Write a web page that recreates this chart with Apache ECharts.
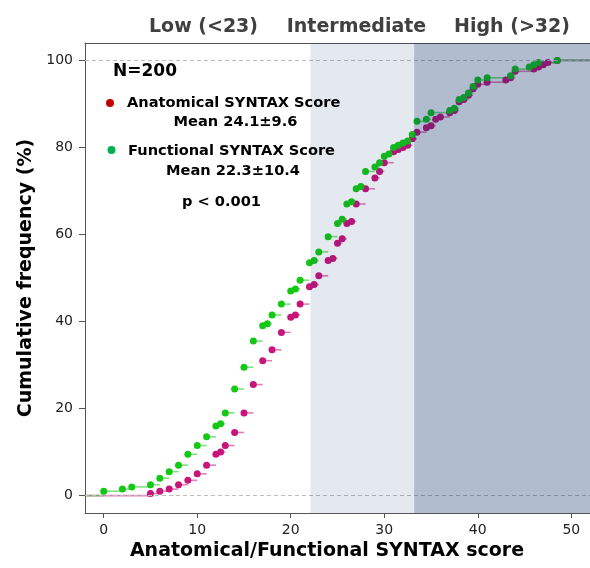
<!DOCTYPE html>
<html>
<head>
<meta charset="utf-8">
<script src="https://cdn.jsdelivr.net/npm/echarts@6/dist/echarts.min.js"></script>
<style>html,body{margin:0;padding:0;background:#fff;}#c{width:590px;height:568px;}</style>
</head>
<body>
<div id="c"></div>
<script>
// ---- data ----
const anatX = [5,6,7,8,9,10,11,12,12.5,13,14,15,16,17,18,19,20,20.5,21,22,22.5,23,24,24.5,25,25.5,26,26.5,27,28,29,29.5,30,31,31.5,32,32.5,33,33.5,34.5,35,35.5,36,37,37.5,38,38.5,39,39.5,40,41,43,43.5,44,46,46.5,47,47.5,48.5];
const anatY = [0.5,1,1.5,2.5,3.5,5,7,9.5,10,11.5,14.5,19,25.5,31,33.5,37.5,41,41.5,44,48,48.5,50.5,54,54.5,58,59,62.5,63,67,70.5,73,74.5,76.5,79,79.5,80,80.5,82,83.5,84.5,85,86.5,87,88,88.5,90.5,91,92,93.5,94.5,95,95.5,96,97.5,98,98.5,99,99.5,100];
const funcX = [0,2,3,5,6,7,8,9,10,11,12,12.5,13,14,15,16,17,17.5,18,19,20,20.5,21,22,22.5,23,24,25,25.5,26,26.5,27,27.5,28,29,29.5,30,30.5,31,31.5,32,32.5,33,33.5,34.5,35,37,37.5,38,38.5,39,39.5,40,41,43.5,44,45.5,46,46.5,48.5];
const funcY = [1,1.5,2,2.5,4,5.5,7,9.5,11.5,13.5,16,16.5,19,24.5,29.5,35.5,39,39.5,41.5,44,47,47.5,49.5,53.5,54,56,59.5,62.5,63.5,67,67.5,70.5,71,74.5,75.5,76.5,78,78.5,80,80.5,81,81.5,83,86,86.5,88,88.5,89,91,91.5,92.5,94,95.5,96,96.5,98,98.5,99,99.5,100];
const bandStart = [22.1, 33.2];
const bandEnd = [33.2, 52];
const bandLabels = ['Low (<23)', 'Intermediate', 'High (>32)'];
const xTicks = [0,10,20,30,40,50];
const yTicks = [0,20,40,60,80,100];
const refLines = [0, 100];
const seriesNames = ['Anatomical SYNTAX Score', 'Functional SYNTAX Score'];
const seriesMeans = ['Mean 24.1±9.6', 'Mean 22.3±10.4'];
const nText = 'N=200';
const pText = 'p < 0.001';

const X_MIN = -2, X_MAX = 52, Y_MIN = -4, Y_MAX = 104;
const FONT = 'DejaVu Sans';
const PINK = '#c8157a', GREEN = '#16c816';

function steps(xs, ys) {
  const out = [[X_MIN, xs[0], 0]];
  for (let i = 0; i < xs.length; i++) {
    out.push([xs[i], i + 1 < xs.length ? xs[i + 1] : X_MAX, ys[i]]);
  }
  return out;
}
function pts(xs, ys) { return xs.map((x, i) => [x, ys[i]]); }

function segSeries(data, color) {
  return {
    type: 'custom', silent: true, z: 2,
    data: data,
    encode: { x: [0, 1], y: 2 },
    renderItem: function (params, api) {
      const a = api.coord([api.value(0), api.value(2)]);
      const b = api.coord([api.value(1), api.value(2)]);
      return { type: 'line', shape: { x1: a[0], y1: a[1], x2: b[0], y2: b[1] },
        style: { stroke: color, lineWidth: 1.6, opacity: 0.55 } };
    }
  };
}

const bandFill = ['rgba(3,39,100,0.107)', 'rgba(3,39,100,0.31)'];

const chart = echarts.init(document.getElementById('c'), null, { renderer: 'canvas' });
chart.setOption({
  animation: false,
  backgroundColor: '#fff',
  grid: { left: 85, top: 43, right: 0, bottom: 55, show: false },
  xAxis: [{
    type: 'value', min: X_MIN, max: X_MAX,
    name: 'Anatomical/Functional SYNTAX score', nameLocation: 'middle', nameGap: 29,
    nameTextStyle: { fontFamily: FONT, fontWeight: 'bold', fontSize: 19, color: '#000', padding: [0, 21, 0, 0] },
    axisLine: { show: true, onZero: false, lineStyle: { color: '#555', width: 1 } },
    axisTick: { show: true, length: 5, lineStyle: { color: '#555' }, customValues: xTicks },
    axisLabel: { fontFamily: FONT, fontSize: 14, color: '#222', margin: 10, customValues: xTicks },
    splitLine: { show: false }
  }, {
    type: 'value', position: 'top', min: X_MIN, max: X_MAX,
    axisLine: { show: true, onZero: false, lineStyle: { color: '#555', width: 1 } },
    axisTick: { show: false }, axisLabel: { show: false }, splitLine: { show: false }
  }],
  yAxis: {
    type: 'value', min: Y_MIN, max: Y_MAX,
    name: 'Cumulative frequency (%)', nameLocation: 'middle', nameGap: 49,
    nameTextStyle: { fontFamily: FONT, fontWeight: 'bold', fontSize: 19, color: '#000' },
    axisLine: { show: true, onZero: false, lineStyle: { color: '#555', width: 1 } },
    axisTick: { show: true, length: 6, lineStyle: { color: '#555' }, customValues: yTicks },
    axisLabel: { fontFamily: FONT, fontSize: 14, color: '#222', margin: 12, customValues: yTicks },
    splitLine: { show: false }
  },
  series: [
    segSeries(steps(anatX, anatY), PINK),
    {
      name: seriesNames[0], type: 'scatter', z: 3, symbol: 'circle', symbolSize: 7,
      itemStyle: { color: PINK, opacity: 1 },
      data: pts(anatX, anatY),
      markLine: {
        silent: true, symbol: 'none', label: { show: false },
        lineStyle: { color: '#bdbdbd', type: [4, 3], width: 1 },
        data: refLines.map(v => ({ yAxis: v }))
      }
    },
    segSeries(steps(funcX, funcY), GREEN),
    {
      name: seriesNames[1], type: 'scatter', z: 4, symbol: 'circle', symbolSize: 7,
      itemStyle: { color: GREEN, opacity: 1 },
      data: pts(funcX, funcY)
    },
    {
      type: 'custom', silent: true, z: 10,
      data: bandStart.map((s, i) => [s, bandEnd[i], 0]),
      encode: { x: [0, 1], y: 2 },
      renderItem: function (params, api) {
        const cs = params.coordSys;
        const x0 = api.coord([api.value(0), 0])[0];
        const x1 = Math.min(api.coord([api.value(1), 0])[0], cs.x + cs.width);
        return { type: 'rect', shape: { x: x0, y: cs.y, width: x1 - x0, height: cs.height },
          style: { fill: bandFill[params.dataIndex] } };
      }
    }
  ],
  graphic: [
    { type: 'text', x: 203.5, y: 27, style: { text: bandLabels[0], font: 'bold 19px "DejaVu Sans"', fill: '#404040', textAlign: 'center', textVerticalAlign: 'middle' } },
    { type: 'text', x: 356.5, y: 27, style: { text: bandLabels[1], font: 'bold 19px "DejaVu Sans"', fill: '#404040', textAlign: 'center', textVerticalAlign: 'middle' } },
    { type: 'text', x: 512, y: 27, style: { text: bandLabels[2], font: 'bold 19px "DejaVu Sans"', fill: '#404040', textAlign: 'center', textVerticalAlign: 'middle' } },
    { type: 'text', x: 113, y: 72, z: 20, style: { text: nText, font: 'bold 17px "DejaVu Sans"', fill: '#000', textAlign: 'left', textVerticalAlign: 'middle' } },
    { type: 'circle', shape: { cx: 110, cy: 103, r: 4 }, z: 20, style: { fill: '#c00000' } },
    { type: 'text', x: 127, y: 103, z: 20, style: { text: seriesNames[0], font: 'bold 14.6px "DejaVu Sans"', fill: '#000', textAlign: 'left', textVerticalAlign: 'middle' } },
    { type: 'text', x: 235.5, y: 122, z: 20, style: { text: seriesMeans[0], font: 'bold 14.6px "DejaVu Sans"', fill: '#000', textAlign: 'center', textVerticalAlign: 'middle' } },
    { type: 'circle', shape: { cx: 111.5, cy: 150, r: 4 }, z: 20, style: { fill: '#00b050' } },
    { type: 'text', x: 128, y: 151, z: 20, style: { text: seriesNames[1], font: 'bold 14.6px "DejaVu Sans"', fill: '#000', textAlign: 'left', textVerticalAlign: 'middle' } },
    { type: 'text', x: 233, y: 171, z: 20, style: { text: seriesMeans[1], font: 'bold 14.6px "DejaVu Sans"', fill: '#000', textAlign: 'center', textVerticalAlign: 'middle' } },
    { type: 'text', x: 221.5, y: 202, z: 20, style: { text: pText, font: 'bold 14.6px "DejaVu Sans"', fill: '#000', textAlign: 'center', textVerticalAlign: 'middle' } }
  ]
});
</script>
</body>
</html>
